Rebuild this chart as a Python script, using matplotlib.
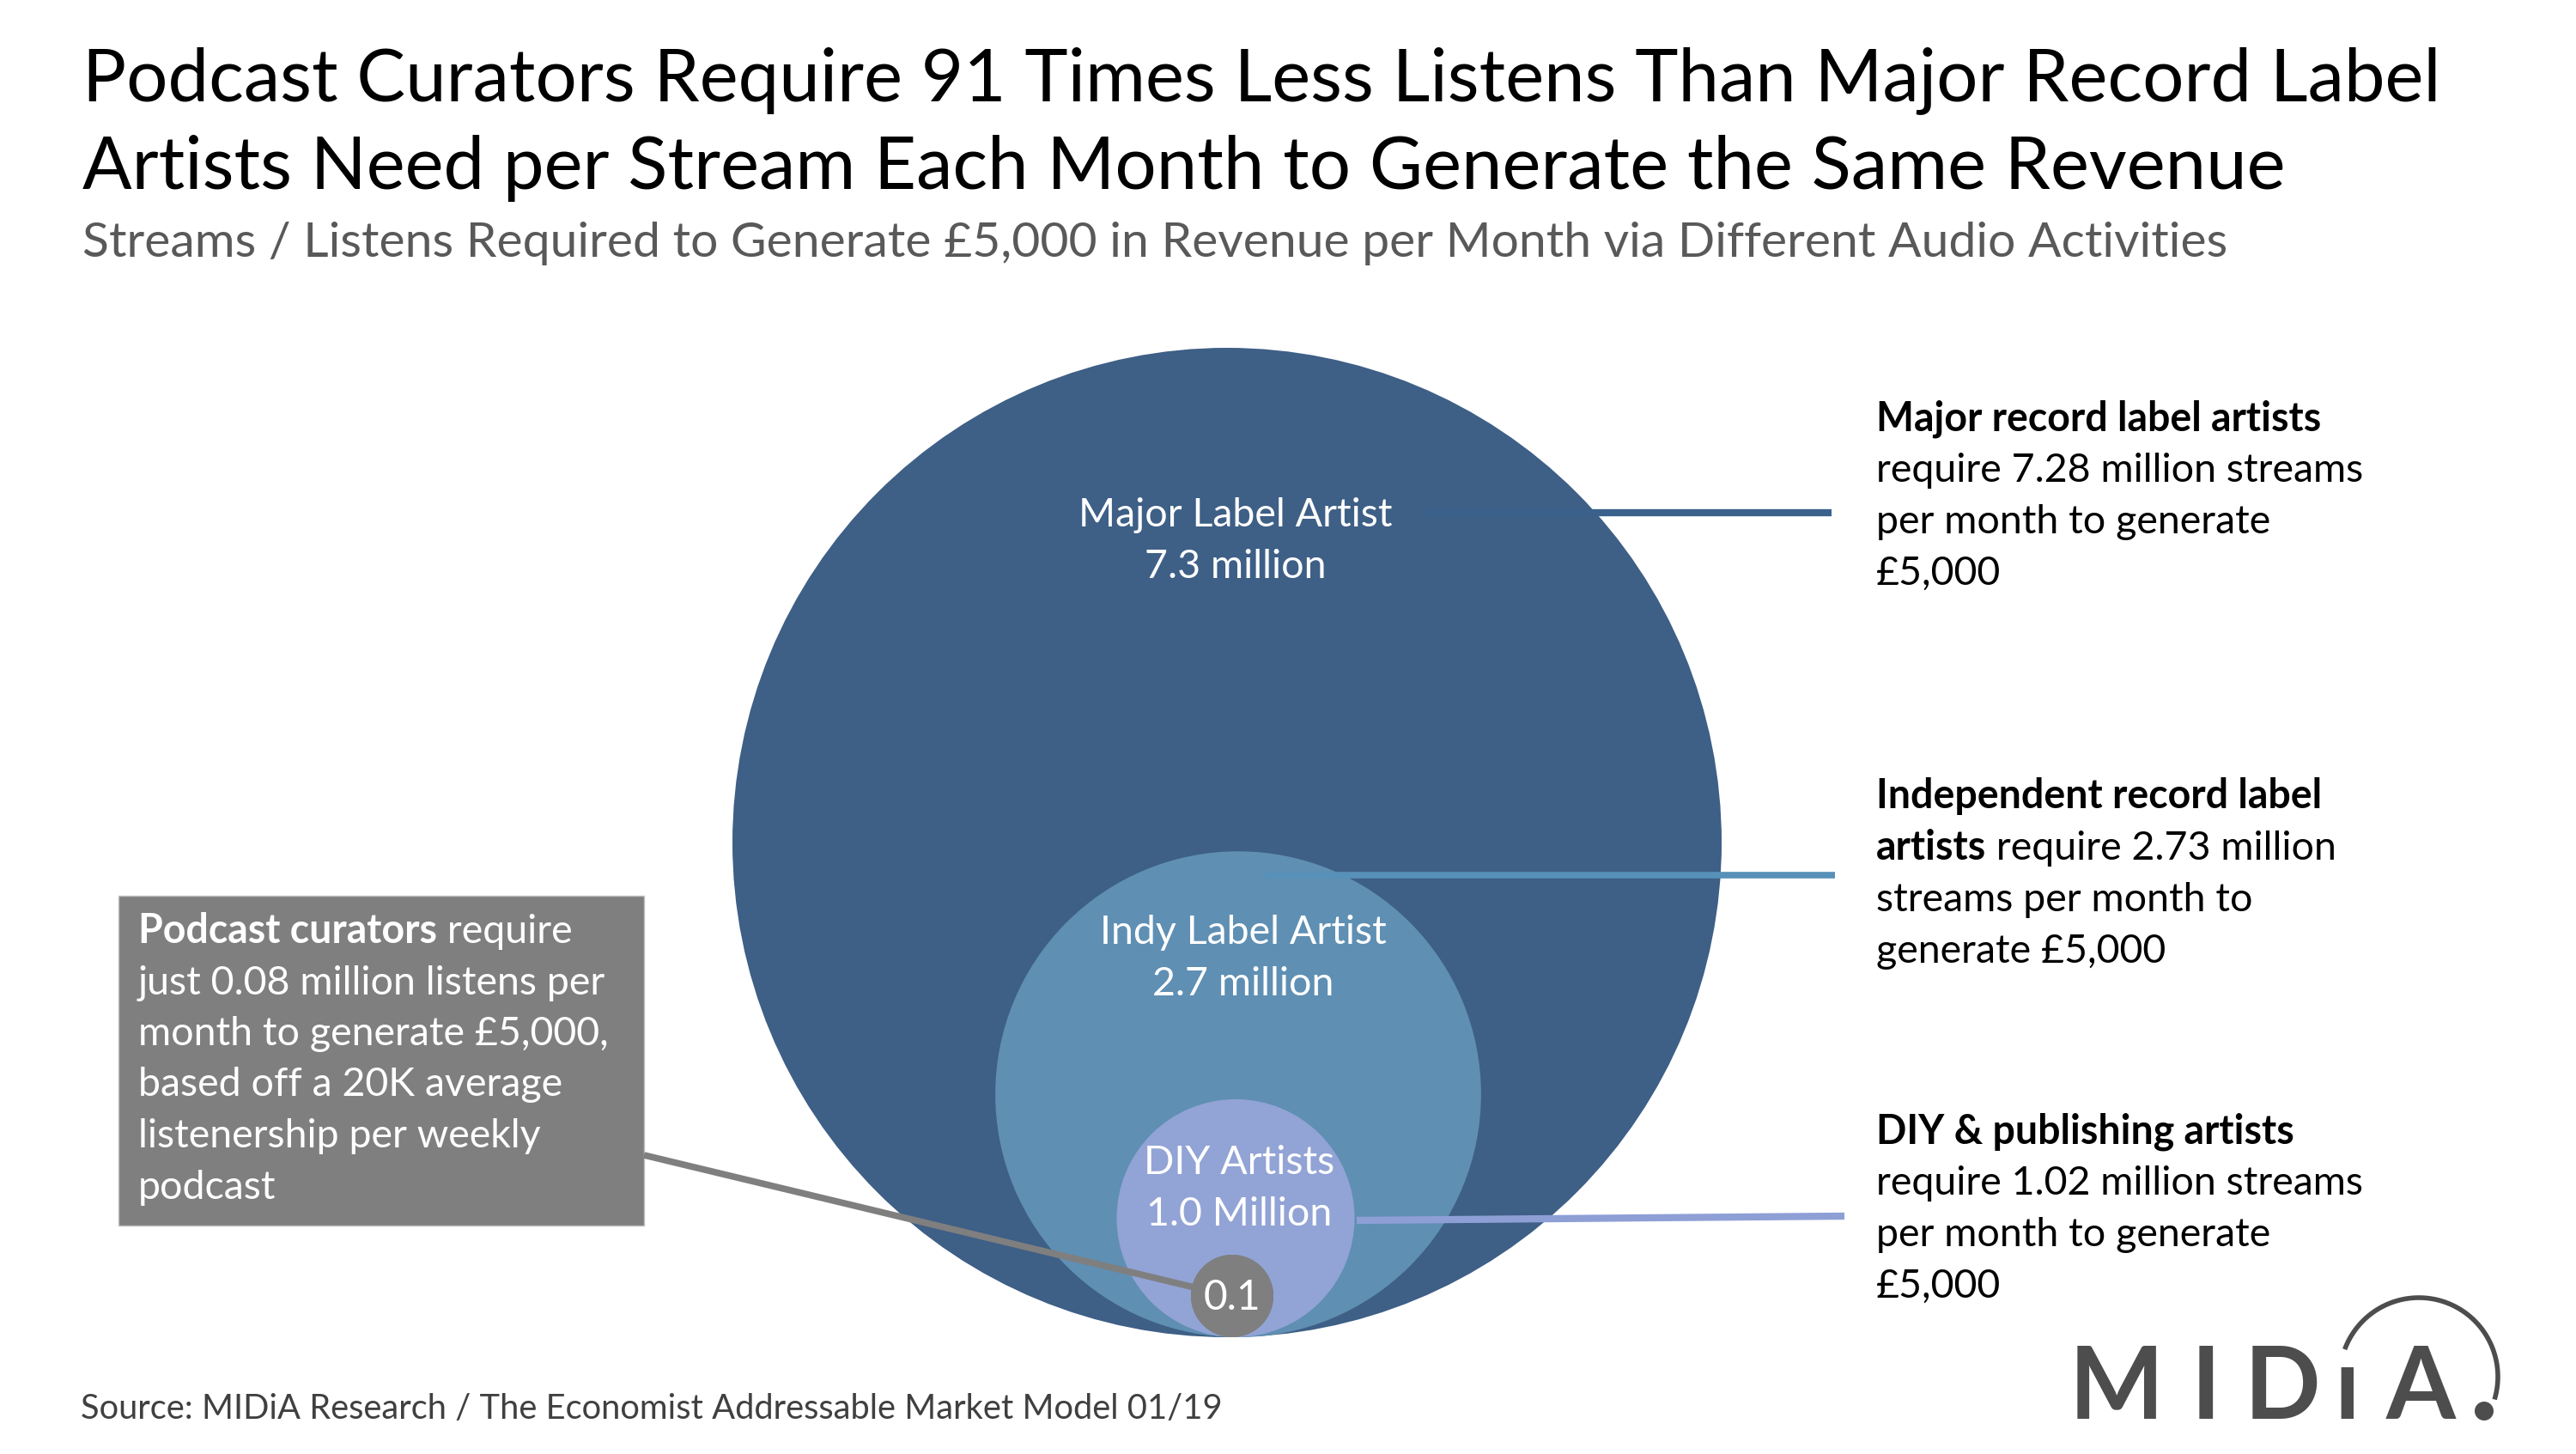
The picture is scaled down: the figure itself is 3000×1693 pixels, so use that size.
import numpy as np
import matplotlib
matplotlib.use("Agg")
import matplotlib.pyplot as plt
from matplotlib.patches import Circle, Rectangle

plt.rcParams["font.family"] = ["Lato", "DejaVu Sans"]

# data (million streams / listens per month for 5,000 GBP)
groups = ["Major Label Artist", "Indy Label Artist", "DIY Artists", "Podcast curators"]
streams_m = [7.28, 2.73, 1.02, 0.08]
bubble_text = [["Major Label Artist", "7.3 million"],
               ["Indy Label Artist", "2.7 million"],
               ["DIY Artists", "1.0 Million"],
               ["0.1"]]

title_lines = ["Podcast Curators Require 91 Times Less Listens Than Major Record Label",
               "Artists Need per Stream Each Month to Generate the Same Revenue"]
subtitle = "Streams / Listens Required to Generate £5,000 in Revenue per Month via Different Audio Activities"
source = "Source: MIDiA Research / The Economist Addressable Market Model 01/19"

# right-hand notes: each line is a list of (text, bold)
major_note = [[("Major record label artists", True)],
              [("require 7.28 million streams", False)],
              [("per month to generate", False)],
              [("£5,000", False)]]
indy_note = [[("Independent record label", True)],
             [("artists", True), (" require 2.73 million", False)],
             [("streams per month to", False)],
             [("generate £5,000", False)]]
diy_note = [[("DIY & publishing artists", True)],
            [("require 1.02 million streams", False)],
            [("per month to generate", False)],
            [("£5,000", False)]]
podcast_note = [[("Podcast curators", True), (" require", False)],
                [("just 0.08 million listens per", False)],
                [("month to generate £5,000,", False)],
                [("based off a 20K average", False)],
                [("listenership per weekly", False)],
                [("podcast", False)]]

# styling
colors = ["#3E5F86", "#5F8FB3", "#92A3D5", "#7F7F7F"]
line_colors = ["#3A618B", "#5790B8", "#8E9FD6", "#7F7F7F"]
W, H = 3000, 1693
CX, BOTTOM = 1432, 1557
x_shift = [-3, 10, 7, 3]
label_dx = [10, 6, 4, 0]
R_MAX, R_MIN, POWER = 576, 48, 0.725
label_frac = [0.61, 0.56, 0.25, 0.0]
BODY = 33.5

fig = plt.figure(figsize=(W / 100, H / 100), dpi=100)
ax = fig.add_axes([0, 0, 1, 1])
ax.set_xlim(0, W)
ax.set_ylim(H, 0)
ax.axis("off")
renderer = fig.canvas.get_renderer()


def rich_line(x, y, parts, size, color):
    for txt, bold in parts:
        t = ax.text(x, y, txt, fontsize=size, color=color, va="baseline", ha="left",
                    fontweight="bold" if bold else "normal", zorder=6)
        bb = t.get_window_extent(renderer=renderer)
        x = ax.transData.inverted().transform((bb.x1, bb.y0))[0]


def note_block(x, y0, lines, color, step=60):
    for i, parts in enumerate(lines):
        rich_line(x, y0 + i * step, parts, BODY, color)


# titles
ax.text(96, 117, title_lines[0], fontsize=61.3, color="black", va="baseline")
ax.text(96, 220, title_lines[1], fontsize=61.3, color="black", va="baseline")
ax.text(96, 299, subtitle, fontsize=41, color="#595959", va="baseline")

# bubbles, radius from value with a floor for the tiny podcast bubble
radii = [max(R_MIN, R_MAX * (v / max(streams_m)) ** POWER) for v in streams_m]
centers = [BOTTOM - r for r in radii]
xs = [CX + s for s in x_shift]

for i, (r, cy) in enumerate(zip(radii, centers)):
    ax.add_patch(Circle((xs[i], cy), r, facecolor=colors[i], edgecolor="none", zorder=1 + i * 2))

# connector lines
ax.plot([1655, 2133], [597, 597], color=line_colors[0], lw=6, zorder=2, solid_capstyle="butt")
ax.plot([1473, 2137], [1019, 1019], color=line_colors[1], lw=5.5, zorder=4, solid_capstyle="butt")
ax.plot([1580, 2148], [1421, 1416], color=line_colors[2], lw=6, zorder=6, solid_capstyle="butt")
ax.plot([750, 1420], [1345, 1506], color=line_colors[3], lw=5.5, zorder=6, solid_capstyle="butt")
ax.add_patch(Circle((xs[3], centers[3]), radii[3], facecolor=colors[3], edgecolor="none", zorder=7))

# bubble labels
for i, (lines, r, cy) in enumerate(zip(bubble_text, radii, centers)):
    ly = cy - label_frac[i] * r
    lx = xs[i] + label_dx[i]
    if len(lines) == 2:
        ax.text(lx, ly - 30, lines[0], fontsize=BODY, color="white", ha="center", va="center", zorder=8)
        ax.text(lx, ly + 30, lines[1], fontsize=BODY, color="white", ha="center", va="center", zorder=8)
    else:
        ax.text(lx, ly + 2, lines[0], fontsize=BODY + 1, color="white", ha="center", va="center", zorder=8)

# right notes
note_block(2185, 501, major_note, "black")
note_block(2185, 941, indy_note, "black")
note_block(2185, 1331, diy_note, "black")

# podcast box
ax.add_patch(Rectangle((138, 1043), 612, 384, facecolor="#7F7F7F", edgecolor="#BFBFBF", lw=1, zorder=5))
note_block(161, 1098, podcast_note, "white", step=59.5)

# source
ax.text(94, 1652, source, fontsize=28.7, color="#404040", va="baseline")

# MIDiA logo
logo_col = "#4D4D4D"
for ch, x in zip(["M", "I", "D", "ı", "A"], [2465, 2569, 2658, 2733, 2819]):
    ax.text(x, 1652, ch, fontsize=84, color=logo_col, ha="center", va="baseline", fontweight="bold")
phi = np.radians(np.linspace(158, -15, 120))
ax.plot(2817 + 92 * np.cos(phi), 1603 - 92 * np.sin(phi), color=logo_col, lw=4)
ax.add_patch(Circle((2893, 1643), 11, facecolor=logo_col, edgecolor="none"))

fig.savefig("out.png", dpi=100)
